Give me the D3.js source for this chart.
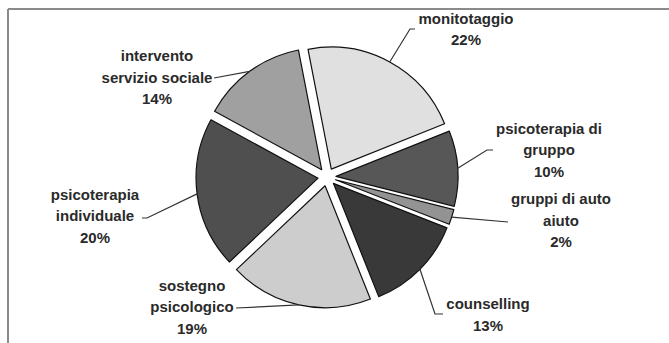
<!DOCTYPE html>
<html><head><meta charset="utf-8">
<script src="https://cdn.jsdelivr.net/npm/d3@7"></script>
<style>html,body{margin:0;padding:0;background:#fff;}svg{display:block;}</style>
</head><body>
<svg id="c" width="669" height="343"></svg>
<script>
// ---- data ----
const categories = ["monitotaggio","psicoterapia di gruppo","gruppi di auto aiuto","counselling","sostegno psicologico","psicoterapia individuale","intervento servizio sociale"];
const values = [22, 10, 2, 13, 19, 20, 14];
const labelLines = [["monitotaggio"],["psicoterapia di","gruppo"],["gruppi di auto","aiuto"],["counselling"],["sostegno","psicologico"],["psicoterapia","individuale"],["intervento","servizio sociale"]];
const fills = ["#e0e0e0","#575757","#939393","#393939","#cdcdcd","#4f4f4f","#a0a0a0"];

// ---- layout (label anchors: center x, first baseline y; leader bend points) ----
const labelPos = [[466,23.5],[549,133.5],[561,204],[488,309],[192,290.5],[95,199.5],[157,61]];
const leaderPts = [
  [[410,29],[415,29]],
  [[487,150],[493,150]],
  [[508,222]],
  [[435,314],[443,314]],
  [[236,308]],
  [[147,218],[142,218]],
  [[214,78]]
];

const svg = d3.select("#c");
const cx = 327, cy = 177, r = 122, d = 9, lh = 21.7;
const startA = -11 * Math.PI / 180;

// frame
svg.append("line").attr("x1",8).attr("y1",9).attr("x2",669).attr("y2",9).attr("stroke","#8a8a8a").attr("stroke-width",2);
svg.append("line").attr("x1",8).attr("y1",9).attr("x2",8).attr("y2",343).attr("stroke","#8a8a8a").attr("stroke-width",2);

const pie = d3.pie().sort(null).value(v => v).startAngle(startA).endAngle(startA + 2*Math.PI);
const arcs = pie(values);
const arc = d3.arc().innerRadius(0).outerRadius(r);

const g = svg.append("g").attr("transform",`translate(${cx},${cy})`);
g.selectAll("path").data(arcs).join("path")
  .attr("transform", a => { const m=(a.startAngle+a.endAngle)/2; return `translate(${d*Math.sin(m)},${-d*Math.cos(m)})`; })
  .attr("d", arc)
  .attr("fill", (a,i) => fills[i])
  .attr("stroke","#111").attr("stroke-width",1.2).attr("stroke-linejoin","round");

// leaders
arcs.forEach((a,i) => {
  const m=(a.startAngle+a.endAngle)/2;
  const p0=[cx+(r+d)*Math.sin(m), cy-(r+d)*Math.cos(m)];
  const pts=[p0, ...leaderPts[i]];
  svg.append("path").attr("d", d3.line()(pts)).attr("fill","none").attr("stroke","#333").attr("stroke-width",1.2);
});

// labels
arcs.forEach((a,i) => {
  const t = svg.append("text").attr("text-anchor","middle")
    .attr("font-family","'Liberation Sans', Arial, sans-serif").attr("font-size",15).attr("font-weight","bold").attr("fill","#2a2a2a");
  const lines = [...labelLines[i], values[i] + "%"];
  lines.forEach((s,k) => t.append("tspan").attr("x", labelPos[i][0]).attr("y", labelPos[i][1] + k*lh).text(s));
});
</script>
</body></html>
